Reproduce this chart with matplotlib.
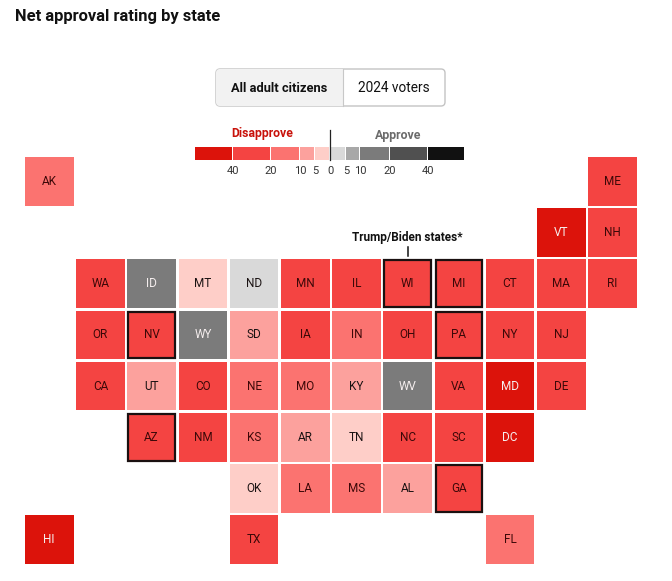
import numpy as np
import matplotlib
matplotlib.use("Agg")
import matplotlib.pyplot as plt
from matplotlib.patches import Rectangle, FancyBboxPatch

plt.rcParams['font.family'] = ['Roboto', 'DejaVu Sans']

# tile grid, north to south, blank cells are None
GRID = [
    ["AK", None, None, None, None, None, None, None, None, None, None, "ME"],
    [None, None, None, None, None, None, None, None, None, None, "VT", "NH"],
    [None, "WA", "ID", "MT", "ND", "MN", "IL", "WI", "MI", "CT", "MA", "RI"],
    [None, "OR", "NV", "WY", "SD", "IA", "IN", "OH", "PA", "NY", "NJ", None],
    [None, "CA", "UT", "CO", "NE", "MO", "KY", "WV", "VA", "MD", "DE", None],
    [None, None, "AZ", "NM", "KS", "AR", "TN", "NC", "SC", "DC", None, None],
    [None, None, None, None, "OK", "LA", "MS", "AL", "GA", None, None, None],
    ["HI", None, None, None, "TX", None, None, None, None, "FL", None, None],
]

# net approval, negative means disapprove
NET = {
    "AK": -15, "ME": -25, "VT": -45, "NH": -25,
    "WA": -25, "ID": 15, "MT": -4, "ND": 3, "MN": -25, "IL": -25,
    "WI": -25, "MI": -25, "CT": -25, "MA": -25, "RI": -25,
    "OR": -25, "NV": -25, "WY": 15, "SD": -8, "IA": -25, "IN": -15,
    "OH": -25, "PA": -25, "NY": -25, "NJ": -25,
    "CA": -25, "UT": -8, "CO": -25, "NE": -15, "MO": -15, "KY": -8,
    "WV": 15, "VA": -25, "MD": -45, "DE": -25,
    "AZ": -25, "NM": -25, "KS": -15, "AR": -8, "TN": -4, "NC": -25,
    "SC": -25, "DC": -45,
    "OK": -4, "LA": -15, "MS": -15, "AL": -8, "GA": -25,
    "HI": -45, "TX": -25, "FL": -15,
}

TRUMP_BIDEN = ["NV", "WI", "MI", "PA", "AZ", "GA"]

BIN_EDGES = [-40, -20, -10, -5, 0, 5, 10, 20, 40]
BIN_COLORS = ["#dc130b", "#f44442", "#fb7370", "#fca19d", "#fecec8",
              "#d9d9d9", "#a8a8a8", "#7b7b7b", "#505050", "#111111"]
LIGHT_TEXT = ["#dc130b", "#7b7b7b", "#505050", "#111111"]
DARK_RED_TEXT = ["#f44442", "#fb7370"]

LEGEND_TICKS = [40, 20, 10, 5, 0, 5, 10, 20, 40]


def bin_color(v):
    return BIN_COLORS[np.digitize(v, BIN_EDGES)]


fig = plt.figure(figsize=(6.72, 5.81), dpi=100)
ax = fig.add_axes([0, 0, 1, 1])
ax.set_xlim(0, 672)
ax.set_ylim(581, 0)
ax.axis("off")

ax.text(15, 17, "Net approval rating by state", fontsize=11.9, fontweight="bold",
        color="#111111", va="center", ha="left")

# toggle buttons
btn = FancyBboxPatch((216, 69), 229, 37, boxstyle="round,pad=0,rounding_size=4",
                     fc="white", ec="#c4c4c4", lw=1)
ax.add_patch(btn)
left = Rectangle((216, 69), 127, 37, fc="#f2f2f2", ec="none")
left.set_clip_path(btn)
ax.add_patch(left)
ax.plot([343, 343], [69, 106], color="#c8c8c8", lw=0.8)
ax.text(279.5, 88, "All adult citizens", fontsize=9.3, fontweight="bold",
        color="#111111", ha="center", va="center")
ax.text(394, 88, "2024 voters", fontsize=9.8, color="#111111", ha="center", va="center")

# colour key, bins are not evenly spaced
key_x = [195, 233, 271, 300, 315, 330, 346, 360, 390, 428, 465]
for i, c in enumerate(BIN_COLORS):
    ax.add_patch(Rectangle((key_x[i], 147), key_x[i + 1] - key_x[i] - 0.8, 13, fc=c, ec="none"))
for x, t in zip(key_x[1:-1], LEGEND_TICKS):
    ax.text(x, 171, str(t), fontsize=8, color="#333333", ha="center", va="center")
ax.plot([330, 330], [130, 160], color="#222222", lw=0.9)
ax.text(262, 134, "Disapprove", fontsize=8.8, fontweight="bold", color="#c8120b",
        ha="center", va="center")
ax.text(398, 135, "Approve", fontsize=8.9, fontweight="bold", color="#6b6b6b",
        ha="center", va="center")

# state tiles
pitch = 51.2
size = 48.5
for r, row in enumerate(GRID):
    for c, st in enumerate(row):
        if st is None:
            continue
        x0 = 25 + c * pitch
        y0 = 157 + r * pitch
        col = bin_color(NET[st])
        ax.add_patch(Rectangle((x0, y0), size, size, fc=col, ec="none"))
        if st in TRUMP_BIDEN:
            ax.add_patch(Rectangle((x0 + 1, y0 + 1), size - 2, size - 2,
                                   fc="none", ec="#1a1010", lw=1.6))
        if col in LIGHT_TEXT:
            txt = "#f5eeee"
        elif col in DARK_RED_TEXT:
            txt = "#3c0808"
        else:
            txt = "#1a1212"
        ax.text(x0 + size / 2, y0 + size / 2, st, fontsize=8.5, color=txt,
                ha="center", va="center")

ax.text(407, 238, "Trump/Biden states*", fontsize=8.5, fontweight="bold",
        color="#111111", ha="center", va="center")
ax.plot([408, 408], [247, 256], color="#111111", lw=1.1)

fig.savefig("out.png", dpi=100)
